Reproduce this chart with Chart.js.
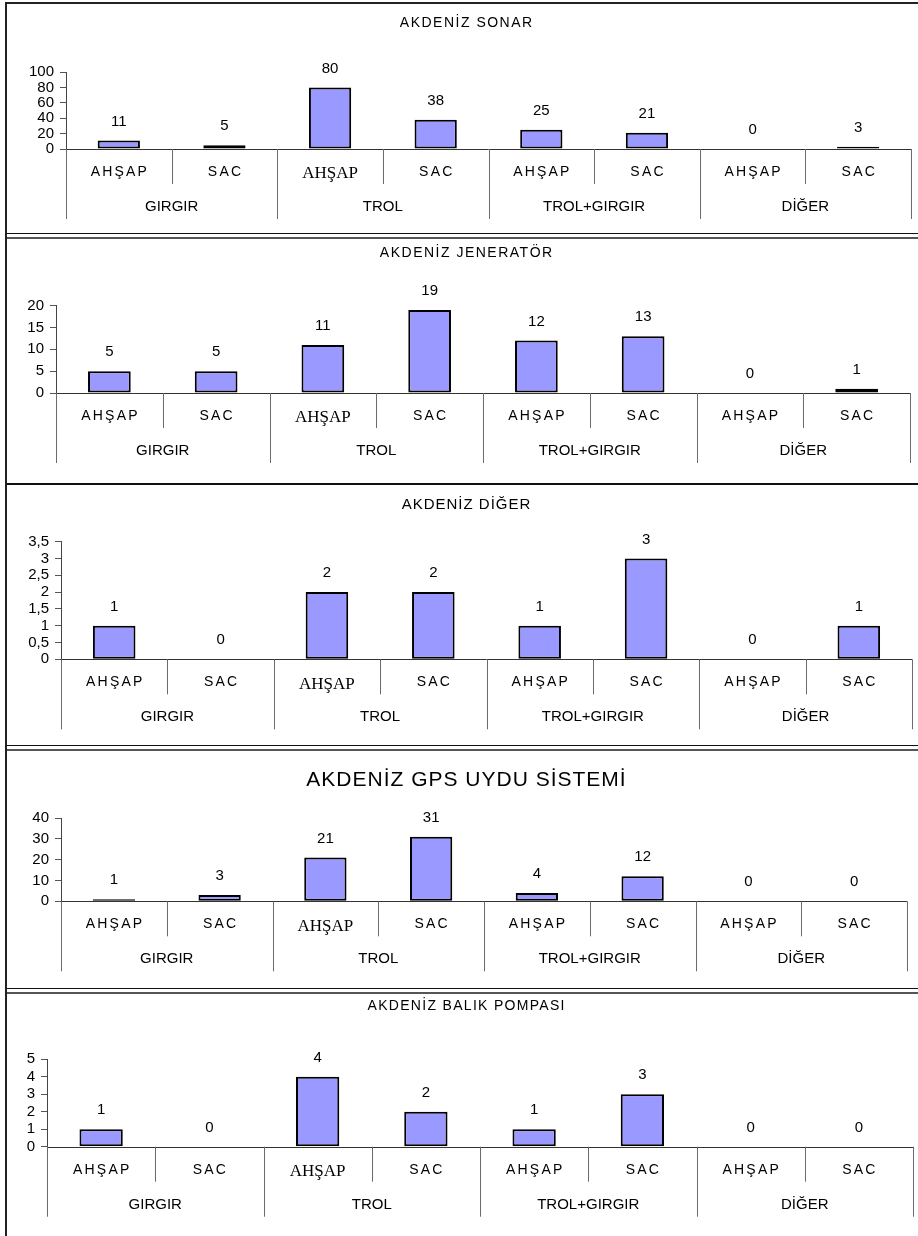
<!DOCTYPE html>
<html lang="tr">
<head>
<meta charset="utf-8">
<title>Akdeniz - Tekne Donanımları</title>
<script src="https://cdn.jsdelivr.net/npm/chart.js@4.4.1/dist/chart.umd.min.js"></script>
<style>
  html, body { margin: 0; padding: 0; background: #fff; overflow: hidden; }
  #page { position: relative; width: 918px; height: 1236px; }
  #page canvas { position: absolute; left: 0; }
  .rule { position: absolute; }
</style>
</head>
<body>
<div id="page"></div>
<script>
// Kategoriler: tekne yapısı (alt seviye) ve av tipi (üst seviye)
const categories = ['AHŞAP', 'SAC', 'AHŞAP', 'SAC', 'AHŞAP', 'SAC', 'AHŞAP', 'SAC'];
const groups = ['GIRGIR', 'TROL', 'TROL+GIRGIR', 'DİĞER'];

const titles = [
  'AKDENİZ SONAR',
  'AKDENİZ JENERATÖR',
  'AKDENİZ DİĞER',
  'AKDENİZ GPS UYDU SİSTEMİ',
  'AKDENİZ BALIK POMPASI'
];

// Tekne sayıları
const sonar        = [11, 5, 80, 38, 25, 21, 0, 3];
const jenerator    = [5, 5, 11, 19, 12, 13, 0, 1];
const diger        = [1, 0, 2, 2, 1, 3, 0, 1];
const gps          = [1, 3, 21, 31, 4, 12, 0, 0];
const balikPompasi = [1, 0, 4, 2, 1, 3, 0, 0];

// Y ekseni ölçekleri
const yMax  = [100, 20, 3.5, 40, 5];
const yStep = [20, 5, 0.5, 10, 1];

const series = [sonar, jenerator, diger, gps, balikPompasi];

// Panel yerleşimi (piksel)
const layoutSpec = [
  { top: 4,   bottom: 233,  axisX: 66, endX: 911, topY: 72,    zeroY: 149,   titleY: 23,   titleFont: '14px "Liberation Sans"', titleSpacing: 1.5 },
  { top: 240, bottom: 483,  axisX: 56, endX: 910, topY: 305.7, zeroY: 393,   titleY: 253,  titleFont: '14px "Liberation Sans"', titleSpacing: 1.5 },
  { top: 485, bottom: 745,  axisX: 61, endX: 912, topY: 541.7, zeroY: 659.3, titleY: 505,  titleFont: '15px "Liberation Sans"', titleSpacing: 1 },
  { top: 751, bottom: 988,  axisX: 61, endX: 907, topY: 818,   zeroY: 901.3, titleY: 780,  titleFont: '21px "Liberation Sans"', titleSpacing: 1 },
  { top: 994, bottom: 1236, axisX: 47, endX: 913, topY: 1059.3, zeroY: 1146.7, titleY: 1006, titleFont: '14px "Liberation Sans"', titleSpacing: 1.3 }
];

const TITLE_X = 466;
const page = document.getElementById('page');

function spacedText(ctx, text, x, y, spacing) {
  ctx.letterSpacing = spacing + 'px';
  ctx.fillText(text, x + spacing / 2, y);
  ctx.letterSpacing = '0px';
}

// Başlık, iki seviyeli kategori ekseni ve değer etiketleri
const panelDecor = {
  id: 'panelDecor',
  afterDatasetsDraw(chart, args, opts) {
    const ctx = chart.ctx;
    const x = chart.scales.x;
    const y = chart.scales.y;
    const zero = y.getPixelForValue(0);
    const n = categories.length;
    const step = (x.right - x.left) / n;
    const edge = i => x.getPixelForValue(i) - step / 2;

    ctx.save();
    ctx.fillStyle = '#000';
    ctx.textAlign = 'center';
    ctx.textBaseline = 'middle';

    // Başlık
    ctx.font = opts.titleFont;
    spacedText(ctx, opts.title, TITLE_X, opts.titleY - opts.top, opts.titleSpacing);

    // Kategori ekseni çizgisi
    ctx.strokeStyle = '#333';
    ctx.lineWidth = 1;
    ctx.beginPath();
    ctx.moveTo(x.left, Math.round(zero) + 0.5);
    ctx.lineTo(x.right, Math.round(zero) + 0.5);
    ctx.stroke();

    // Ayırıcı çizgiler
    ctx.strokeStyle = '#6b6b6b';
    for (let i = 0; i <= n; i++) {
      const px = Math.round(i === n ? x.right : edge(i)) + 0.5;
      const len = (i % 2 === 0) ? 70 : 35;
      ctx.beginPath();
      ctx.moveTo(px, zero);
      ctx.lineTo(px, zero + len);
      ctx.stroke();
    }

    // Alt kategori etiketleri
    for (let i = 0; i < n; i++) {
      const cx = x.getPixelForValue(i);
      if (i === 2) {
        ctx.font = '17px "Liberation Serif"';
        ctx.fillText(categories[i], cx, zero + 25);
      } else {
        ctx.font = '14px "Liberation Sans"';
        spacedText(ctx, categories[i], cx, zero + 23, 2.2);
      }
    }

    // Üst kategori etiketleri
    ctx.font = '15px "Liberation Sans"';
    groups.forEach((g, k) => {
      const cx = (x.getPixelForValue(2 * k) + x.getPixelForValue(2 * k + 1)) / 2;
      ctx.fillText(g, cx, zero + 58);
    });

    // Değer etiketleri
    ctx.font = '15px "Liberation Sans"';
    const meta = chart.getDatasetMeta(0);
    meta.data.forEach((bar, i) => {
      const v = chart.data.datasets[0].data[i];
      ctx.fillText(String(v), bar.x, bar.y - 19);
    });
    ctx.restore();
  }
};

layoutSpec.forEach((spec, p) => {
  const canvas = document.createElement('canvas');
  const h = spec.bottom - spec.top;
  canvas.width = 918;
  canvas.height = h;
  canvas.style.top = spec.top + 'px';
  canvas.style.width = '918px';
  canvas.style.height = h + 'px';
  page.appendChild(canvas);

  new Chart(canvas, {
    type: 'bar',
    data: {
      labels: categories,
      datasets: [{
        data: series[p],
        backgroundColor: '#9999ff',
        borderColor: '#000',
        borderWidth: 2,
        borderSkipped: false,
        barPercentage: 0.4,
        categoryPercentage: 1
      }]
    },
    options: {
      responsive: false,
      devicePixelRatio: 1,
      animation: false,
      events: [],
      layout: {
        padding: {
          top: spec.topY - spec.top,
          bottom: spec.bottom - spec.zeroY,
          left: 0,
          right: 918 - spec.endX
        }
      },
      plugins: {
        legend: { display: false },
        title: { display: false },
        tooltip: { enabled: false },
        panelDecor: {
          title: titles[p],
          titleY: spec.titleY,
          top: spec.top,
          titleFont: spec.titleFont,
          titleSpacing: spec.titleSpacing
        }
      },
      scales: {
        x: {
          type: 'category',
          display: false,
          offset: true
        },
        y: {
          min: 0,
          max: yMax[p],
          afterFit(scale) { scale.width = spec.axisX; },
          ticks: {
            stepSize: yStep[p],
            autoSkip: false,
            color: '#000',
            padding: 6,
            font: { family: '"Liberation Sans"', size: 15 },
            callback: v => String(v).replace('.', ',')
          },
          grid: {
            drawOnChartArea: false,
            drawTicks: true,
            tickLength: 6,
            color: '#555'
          },
          border: { display: true, color: '#444', width: 1 }
        }
      }
    },
    plugins: [panelDecor]
  });
});

// Çerçeve ve panel ayırıcı çizgiler
const rules = [
  { left: 5, top: 2, width: 913, height: 2, color: '#222' },
  { left: 5, top: 233, width: 913, height: 1, color: '#111' },
  { left: 5, top: 237, width: 913, height: 2, color: '#555' },
  { left: 5, top: 483, width: 913, height: 2, color: '#111' },
  { left: 5, top: 745, width: 913, height: 1, color: '#111' },
  { left: 5, top: 749, width: 913, height: 2, color: '#555' },
  { left: 5, top: 988, width: 913, height: 1, color: '#111' },
  { left: 5, top: 992, width: 913, height: 2, color: '#555' },
  { left: 5, top: 2, width: 2, height: 1234, color: '#222' }
];
rules.forEach(r => {
  const d = document.createElement('div');
  d.className = 'rule';
  d.style.left = r.left + 'px';
  d.style.top = r.top + 'px';
  d.style.width = r.width + 'px';
  d.style.height = r.height + 'px';
  d.style.background = r.color;
  page.appendChild(d);
});
</script>
</body>
</html>
